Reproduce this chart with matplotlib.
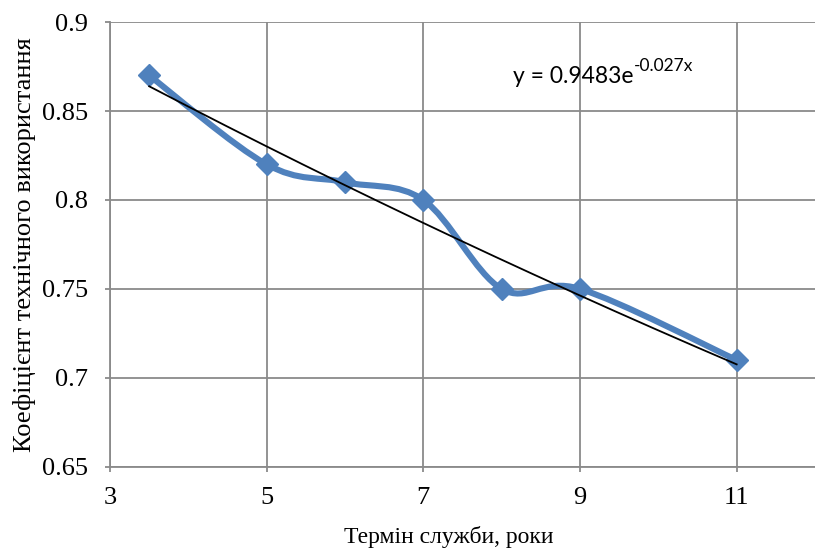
import numpy as np
import matplotlib
matplotlib.use('Agg')
import matplotlib.pyplot as plt
from matplotlib.path import Path
from matplotlib.patches import PathPatch

# service life (years) and technical utilisation coefficient
years = [3.5, 5, 6, 7, 8, 9, 11]
coef = [0.87, 0.82, 0.81, 0.80, 0.75, 0.75, 0.71]

x_ticks = [3, 5, 7, 9, 11]
y_ticks = [0.65, 0.7, 0.75, 0.8, 0.85, 0.9]
y_tick_labels = ['0.65', '0.7', '0.75', '0.8', '0.85', '0.9']

x_label = 'Термін служби, роки'
y_label = 'Коефіцієнт технічного використання'
trend_base = 'y = 0.9483e'
trend_exp = '-0.027x'

BLUE = '#4F81BD'
GRID = '#8A8A8A'
SERIF = ['Liberation Serif', 'DejaVu Serif']
SANS = ['Lato', 'DejaVu Sans']


def smooth_path(xs, ys):
    # Catmull-Rom style bezier, roughly what Excel's "smoothed line" does
    pts = np.column_stack([xs, ys]).astype(float)
    n = len(pts)
    verts = [pts[0]]
    codes = [Path.MOVETO]
    for i in range(n - 1):
        p0 = pts[max(i - 1, 0)]
        p1 = pts[i]
        p2 = pts[i + 1]
        p3 = pts[min(i + 2, n - 1)]
        c1 = p1 + (p2 - p0) / 6
        c2 = p2 - (p3 - p1) / 6
        verts += [c1, c2, p2]
        codes += [Path.CURVE4] * 3
    return Path(verts, codes)


fig = plt.figure(figsize=(8.15, 5.53), dpi=100)
ax = fig.add_axes([0.135, 0.156, 0.865, 0.804])

ax.set_xlim(3, 12)
ax.set_ylim(0.65, 0.9)

ax.grid(True, color=GRID, linewidth=1.3)
ax.set_axisbelow(True)

curve = PathPatch(smooth_path(years, coef), facecolor='none', edgecolor=BLUE,
                  linewidth=4.4, capstyle='round', joinstyle='round', zorder=3)
ax.add_patch(curve)
ax.plot(years, coef, linestyle='none', marker='D', markersize=11,
        color=BLUE, zorder=4)

# exponential trendline fitted to the data
b, log_a = np.polyfit(years, np.log(coef), 1)
xt = np.linspace(min(years), max(years), 200)
ax.plot(xt, np.exp(log_a) * np.exp(b * xt), color='black', linewidth=1.3, zorder=5)

# trendline equation, superscript done as a second text so the hyphen stays a hyphen
eq = ax.text(0.572, 0.864, trend_base, transform=ax.transAxes, va='baseline',
             fontsize=16.5, family=SANS)
ax.annotate(trend_exp, xy=(1.0, 0.6), xycoords=eq, va='bottom', ha='left',
            fontsize=12.5, family=SANS)

ax.set_xticks(x_ticks)
ax.set_xticklabels([str(t) for t in x_ticks])
ax.set_yticks(y_ticks)
ax.set_yticklabels(y_tick_labels)
for lbl in ax.get_xticklabels() + ax.get_yticklabels():
    lbl.set_family(SERIF)
    lbl.set_fontsize(19)

ax.tick_params(axis='both', direction='out', length=3.6, width=1.3, color=GRID)
ax.tick_params(axis='x', pad=11)
ax.tick_params(axis='y', pad=12)

ax.set_xlabel(x_label, family=SERIF, fontsize=17)
ax.set_ylabel(y_label, family=SERIF, fontsize=19)
ax.xaxis.set_label_coords(0.481, -0.157)
ax.xaxis.label.set_va('center')
ax.yaxis.set_label_coords(-0.122, 0.5)
ax.yaxis.label.set_va('center')

for side in ['top', 'right']:
    ax.spines[side].set_visible(False)
for side in ['left', 'bottom']:
    ax.spines[side].set_color(GRID)
    ax.spines[side].set_linewidth(1.3)

fig.savefig('out.png', dpi=100)
